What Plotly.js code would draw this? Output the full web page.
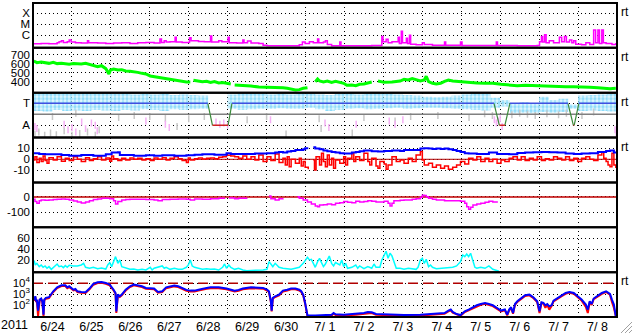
<!DOCTYPE html>
<html><head><meta charset="utf-8">
<script src="https://cdn.plot.ly/plotly-3.0.1.min.js"></script>
<style>html,body{margin:0;padding:0;background:#fff;overflow:hidden}#chart{width:633px;height:334px}</style>
</head><body><div id="chart"></div><script>
// ---- x axis (days since 2011-06-24 00:00) ----
const dayLabels = ['6/24','6/25','6/26','6/27','6/28','6/29','6/30','7/ 1','7/ 2','7/ 3','7/ 4','7/ 5','7/ 6','7/ 7','7/ 8'];
const labelPos = [0.5,1.5,2.5,3.5,4.5,5.5,6.5,7.5,8.5,9.5,10.5,11.5,12.5,13.5,14.5];

// ---- panel 1: X-ray flux (W/m2) ----
const xrayDay = [0,0.21,0.41,0.62,0.67,0.73,0.78,0.88,0.93,0.98,1.09,1.24,1.40,1.43,1.66,1.87,2.07,2.28,2.49,2.69,2.90,3.11,3.26,3.30,3.37,3.42,3.52,3.65,3.68,3.83,4.02,4.06,4.25,4.40,4.56,4.59,4.77,4.85,5.01,5.04,5.23,5.39,5.42,5.51,5.60,5.80,5.91,6.01,6.42,6.84,6.92,6.99,7.10,7.20,7.31,7.34,7.46,7.51,7.56,7.67,7.88,7.91,8.29,8.70,8.96,8.99,9.07,9.12,9.22,9.38,9.41,9.46,9.49,9.59,9.62,9.67,9.70,9.84,10.0,10.05,10.26,10.57,10.60,10.98,11.02,11.40,11.90,11.93,12.44,12.95,13.01,13.06,13.09,13.14,13.18,13.26,13.37,13.52,13.58,13.65,13.70,13.78,13.84,13.89,13.94,14.09,14.20,14.30,14.40,14.45,14.51,14.55,14.61,14.65,14.72,14.87,14.97,15];
const xrayFlux = [1.7e-7,1.8e-7,1.7e-7,2.1e-7,2.6e-7,3.2e-7,2.25e-7,2.6e-7,3.7e-7,2.4e-7,2.1e-7,1.95e-7,3.2e-7,2.1e-7,1.95e-7,1.8e-7,1.95e-7,2.1e-7,1.8e-7,2.1e-7,2.25e-7,1.95e-7,4.6e-7,2.25e-7,3.2e-7,2.4e-7,2.6e-7,6.6e-7,2.4e-7,2.25e-7,6.1e-7,3.2e-7,2.8e-7,2.6e-7,8.7e-7,2.4e-7,3.2e-7,2.6e-7,6.6e-7,2.1e-7,1.95e-7,3.7e-7,2.1e-7,3.0e-7,1.95e-7,1.8e-7,1.25e-7,1.1e-7,1.1e-7,1.35e-7,2.4e-7,1.8e-7,2.6e-7,2.1e-7,4.6e-7,2.1e-7,2.4e-7,3.2e-7,1.45e-7,1.1e-7,2.4e-7,1.1e-7,1.1e-7,1.2e-7,7.6e-7,2.6e-7,4.3e-7,2.1e-7,2.6e-7,6.6e-7,1.8e-7,2.3e-6,2.1e-7,5.4e-7,1.8e-7,1.0e-6,1.55e-7,1.35e-7,2.1e-7,1.45e-7,1.25e-7,2.4e-7,1.25e-7,2.4e-7,1.2e-7,1.2e-7,2.4e-7,1.2e-7,1.1e-7,1.2e-7,2.6e-7,7.6e-7,2.4e-7,1.1e-6,2.1e-7,3.2e-7,2.1e-7,6.6e-7,2.6e-7,7.6e-7,2.4e-7,3.7e-7,2.1e-7,3.2e-7,1.55e-7,1.35e-7,2.1e-7,1.45e-7,3.0e-6,2.1e-7,3.0e-6,1.8e-7,3.0e-6,2.1e-7,1.8e-7,1.45e-7,1.7e-7,1.7e-7];

// ---- panel 2: solar wind speed (km/s) ----
const speedDay = [0.02,0.10,0.21,0.31,0.41,0.52,0.62,0.73,0.83,0.93,1.04,1.14,1.24,1.35,1.45,1.55,1.66,1.76,1.87,1.95,1.99,2.07,2.18,2.28,2.38,2.49,2.59,2.69,2.80,2.90,3.01,3.11,3.21,3.32,3.42,3.52,3.63,3.73,3.83,3.94,4.04,4.08,4.12,4.25,4.35,4.46,4.56,4.66,4.77,4.87,4.97,5.08,5.12,5.18,5.39,5.60,5.80,6.01,6.22,6.42,6.53,6.63,6.74,6.84,6.94,7.05,7.10,7.25,7.31,7.36,7.46,7.56,7.67,7.77,7.88,7.98,8.06,8.19,8.29,8.39,8.50,8.60,8.70,8.75,8.86,9.02,9.22,9.43,9.53,9.64,9.74,9.84,9.95,10.05,10.10,10.16,10.26,10.36,10.47,10.57,10.67,10.78,10.88,10.98,11.19,11.40,11.61,11.81,12.02,12.23,12.44,12.64,12.85,13.06,13.26,13.47,13.68,13.89,14.09,14.30,14.51,14.72,14.82,14.97];
const speedKms = [633,615,622,615,607,619,604,607,600,596,604,600,600,607,596,585,570,581,548,489,533,544,533,537,522,519,515,507,496,489,467,459,452,444,437,430,422,415,407,400,400,null,419,411,404,407,396,404,389,393,385,378,null,367,363,356,344,344,337,337,330,322,311,315,330,337,null,404,433,411,400,411,396,407,393,385,363,367,359,374,378,393,400,null,411,396,400,411,430,422,437,422,411,422,463,404,385,378,385,407,422,411,407,400,393,389,385,385,374,367,359,363,359,356,352,348,348,348,348,341,337,330,326,330];

// ---- panel 3: sector polarity (T=+1, A=-1) and angle scatter ----
const sectorDay = [0,4.49,4.61,5.01,5.11,11.84,11.98,12.12,12.25,13.74,13.88,13.90,14.02,15];
const sectorPol = [1,1,-1,-1,1,1,-1,-1,1,1,-1,-1,1,1];
const cloudDay = [0.125,0.375,0.625,0.875,1.125,1.375,1.625,1.875,2.125,2.375,2.625,2.875,3.125,3.375,3.625,3.875,4.125,4.375,4.625,4.875,5.125,5.375,5.625,5.875,6.125,6.375,6.625,6.875,7.125,7.375,7.625,7.875,8.125,8.375,8.625,8.875,9.125,9.375,9.625,9.875,10.125,10.375,10.625,10.875,11.125,11.375,11.625,11.875,12.125,12.375,12.625,12.875,13.125,13.375,13.625,13.875,14.125,14.375,14.625,14.875];
const cloudLo = [0.3,0.25,0.4,0.3, 0.35,0.3,0.4,0.35, 0.3,0.4,0.35,0.45, 0.4,0.3,0.45,0.4, 0.45,0.5,null,null, 0.5,0.4,0.45,0.5, 0.5,0.55,0.5,0.5, 0.6,0.45,0.3,0.4, 0.5,0.55,0.45,0.5, 0.55,0.6,0.5,0.55, 0.6,0.6,0.55,0.5, 0.45,0.4,0.35,0.6, 0.7,0.1,0.15,0.1, 0.2,0.15,0.2,0.5, 0.3,0.35,0.3,0.25];
const cloudHi = [1.95,1.9,1.95,1.85, 1.9,1.95,1.85,1.9, 1.85,1.9,1.8,1.85, 1.8,1.85,1.75,1.8, 1.75,1.7,null,null, 1.8,1.95,1.9,1.85, 1.8,1.85,1.8,1.9, 1.85,1.8,1.75,1.85, 1.9,1.8,1.85,1.9, 1.85,1.8,1.75,1.7, 1.6,1.55,1.6,1.7, 1.8,1.9,1.85,1.5, 1.3,1.0,1.1,0.95, 1.6,1.3,1.4,0.9, 1.7,1.75,1.8,1.85];
const grayDay = [0.05,0.15,0.3,0.45,0.6,0.8,1.0,1.2,1.4,1.6,1.7,0.5,1.1,2.2,2.6,3.0,3.4,3.7,4.0,4.4,5.5,6.0,6.5,7.35,7.4,8.2,8.5,9.3,9.7,10.4,11.2,11.6,11.8,12.3,12.5,12.7,12.9,13.2,13.5,13.7,14.1,14.4];
const grayVal = [-1.8,-1.6,-1.9,-1.7,-1.85,-1.5,-1.9,-1.75,-1.6,-1.9,-1.4,-0.2,0.1,-0.3,-0.1,-0.2,-0.35,-1.1,-0.4,-0.2,-0.5,-0.2,-1.8,-0.4,-1.3,-1.7,-0.3,-0.6,-0.2,-0.1,-0.3,0.05,-0.1,-0.05,0.1,0.0,-0.1,0.05,-0.05,0.1,-0.1,0.2];
const pinkDay = [0.05,0.1,0.8,0.9,1.0,1.1,1.25,1.35,1.5,1.6,1.65,2.9,3.4,3.5,4.7,4.8,4.9,5.0,6.1,7.5,7.6,8.3,9.15,9.3,9.5,11.85,11.9,11.95,12.05,12.0,14.95,14.98];
const pinkVal = [-1.1,-1.3,-0.9,-1.4,-1.2,-1.6,-0.7,-1.3,-0.8,-1.0,-1.5,-0.6,-0.9,-1.2,-0.7,-0.9,-0.8,-1.0,-0.5,-0.8,-1.2,-0.9,-0.6,-0.9,-0.5,-0.5,-0.8,-0.6,-1.1,-0.4,-1.4,-1.7];

// ---- panel 4: IMF Bt (blue) and Bz (red), nT ----
const btDay = [0,0.16,0.31,0.62,0.73,0.93,1.24,1.55,1.87,2.02,2.18,2.23,2.59,2.90,3.11,3.32,3.63,3.94,4.15,4.35,4.66,4.97,5.08,5.39,5.70,6.01,6.22,6.32,6.42,6.53,6.63,6.74,6.84,6.94,6.99,7.07,7.12,7.20,7.25,7.36,7.46,7.56,7.67,7.77,7.88,7.98,8.19,8.29,8.39,8.50,8.70,8.86,9.02,9.22,9.43,9.53,9.74,9.95,10.05,10.16,10.26,10.36,10.47,10.57,10.67,10.78,10.88,10.98,11.09,11.19,11.40,11.61,11.71,11.81,11.92,12.23,12.44,12.64,12.85,13.06,13.26,13.47,13.68,13.89,14.09,14.30,14.51,14.72,14.82,14.92,15];
const btVal = [5.5,4.8,4.5,4.5,3.9,3.3,3.9,3.3,4.5,6.1,6.4,3.9,3.3,3.6,3.3,3.6,3.3,3.6,4.2,4.5,4.2,5.5,4.8,4.8,5.2,5.5,6.1,6.7,6.1,7.0,7.6,8.5,8.5,9.1,10.0,10.0,null,10.9,9.7,9.1,7.9,7.3,6.7,6.1,5.5,5.2,6.1,6.7,7.3,7.9,7.3,7.0,7.6,7.9,7.6,8.5,8.5,9.7,10.0,9.7,9.4,9.7,9.4,9.7,9.1,8.5,7.6,6.7,5.5,5.2,4.8,4.8,6.1,6.1,4.8,4.5,5.8,6.1,6.4,6.7,6.4,6.1,5.2,4.8,5.2,5.5,6.7,7.6,7.9,6.1,5.5];
const bzDay = [0,0.05,0.10,0.16,0.21,0.26,0.31,0.36,0.41,0.52,0.62,0.73,0.83,0.93,1.04,1.14,1.24,1.35,1.45,1.55,1.66,1.76,1.87,1.97,2.02,2.07,2.18,2.28,2.38,2.49,2.59,2.69,2.80,2.90,3.01,3.11,3.21,3.32,3.42,3.52,3.63,3.73,3.83,3.94,3.99,4.04,4.15,4.25,4.35,4.46,4.56,4.66,4.77,4.87,4.97,5.08,5.18,5.28,5.39,5.49,5.60,5.70,5.80,5.91,6.01,6.11,6.22,6.32,6.42,6.48,6.53,6.58,6.63,6.74,6.84,6.89,6.94,6.99,7.07,7.12,7.20,7.23,7.27,7.36,7.41,7.46,7.51,7.56,7.61,7.67,7.72,7.77,7.88,7.98,8.03,8.08,8.19,8.24,8.29,8.39,8.50,8.60,8.65,8.70,8.81,8.86,8.91,9.02,9.07,9.12,9.22,9.33,9.43,9.53,9.64,9.74,9.84,9.95,10.0,10.05,10.16,10.26,10.36,10.47,10.57,10.67,10.78,10.88,10.98,11.09,11.19,11.30,11.40,11.50,11.61,11.71,11.81,11.92,12.02,12.12,12.23,12.33,12.44,12.54,12.64,12.75,12.85,12.95,13.06,13.16,13.26,13.37,13.47,13.58,13.68,13.78,13.89,13.99,14.09,14.20,14.30,14.40,14.51,14.61,14.66,14.72,14.77,14.82,14.87,14.92,14.97,15];
const bzVal = [-0.6,2.4,-3.0,0.9,-2.1,3.0,-1.2,-3.6,1.5,-0.6,2.4,-1.8,0.9,-1.2,2.4,0,-2.1,1.5,-1.2,0.6,2.4,-0.6,1.2,-1.8,3.0,0.6,-1.2,0.9,-0.6,1.2,0,0.9,-0.6,0.6,-1.2,1.2,0,1.5,-0.6,0.9,2.4,0.6,-1.2,-3.0,1.2,-0.6,0.6,1.2,0.3,0.9,1.2,0.6,1.8,2.4,3.6,3.0,2.4,0.9,3.0,0,2.4,-0.6,3.9,-2.1,2.4,-1.2,4.8,-3.0,0.9,-5.2,2.4,-6.7,0,-3.6,0.9,-6.1,-2.1,-7.3,-9.1,null,-0.6,-9.7,2.4,-5.2,5.5,-2.1,-6.7,3.9,-5.2,0.9,-8.2,-0.6,-3.6,2.4,-5.2,0.9,5.5,-2.1,2.4,-1.2,5.5,-2.1,-5.2,0.9,-6.1,-8.2,-2.1,-4.2,-9.1,-5.2,2.4,-2.1,-0.6,-3.6,0.9,-2.1,3.9,7.0,-0.6,-5.2,-3.6,-7.3,-5.2,-8.2,-6.1,-9.1,-7.3,-5.2,-2.1,-4.2,0.9,-0.6,2.4,-2.1,0.9,-2.1,0,-3.6,-0.6,-2.1,0.9,2.4,-0.6,2.4,-1.2,0.9,-0.6,2.4,-1.2,0.6,-0.6,2.4,0.9,-0.6,2.4,-1.2,0.9,-2.1,0.9,2.4,0,-1.2,3.9,6.1,0.9,-2.1,-5.2,-6.7,5.5,-5.2,-7.3,-7.3];

// ---- panel 5: Dst (nT) ----
const dstDay = [0,0.05,0.10,0.16,0.21,0.31,0.41,0.52,0.62,0.73,0.83,0.93,1.04,1.14,1.24,1.35,1.45,1.55,1.66,1.76,1.87,1.97,2.07,2.12,2.18,2.28,2.38,2.49,2.69,2.90,3.11,3.21,3.32,3.52,3.73,3.94,4.04,4.15,4.35,4.56,4.77,4.92,4.97,5.03,5.18,5.28,5.39,5.49,5.55,6.06,6.11,6.22,6.32,6.42,6.50,6.79,6.84,6.94,7.05,7.15,7.25,7.31,7.36,7.46,7.56,7.67,7.77,7.88,7.98,8.08,8.19,8.29,8.39,8.50,8.60,8.70,8.81,8.91,9.02,9.12,9.17,9.22,9.27,9.43,9.53,9.64,9.74,9.84,9.95,10.0,10.05,10.10,10.16,10.26,10.36,10.57,10.78,10.98,11.09,11.14,11.19,11.24,11.30,11.40,11.50,11.61,11.71,11.81,11.94];
const dstVal = [-15,-30,-41,-24,-20,-22,-20,-17,-15,-13,-15,-20,-26,-33,-39,-33,-24,-17,-13,-9,-9,-11,-24,-46,-30,-20,-17,-15,-15,-17,-20,-24,-17,-15,-13,-15,-20,-13,-15,-11,-9,-7,null,-7,-11,-9,-9,-7,null,7,-11,-20,-11,-9,null,2,-9,-20,-33,-46,-59,-63,-52,-50,-46,-50,-41,-37,-30,-35,-37,-28,-33,-30,-24,-28,-33,-33,-28,-41,-59,-41,-24,-22,-20,-20,-15,-11,-2,11,9,2,-9,-15,-20,-24,-24,-28,-41,-63,-80,-67,-52,-46,-41,-35,-28,-33,-33];

// ---- panel 6: cyan index ----
const cyDay = [0,0.03,0.06,0.10,0.16,0.21,0.26,0.31,0.36,0.41,0.47,0.52,0.57,0.62,0.67,0.73,0.78,0.83,0.88,0.93,1.04,1.14,1.24,1.30,1.35,1.45,1.55,1.66,1.76,1.87,1.92,1.97,2.02,2.07,2.12,2.18,2.23,2.28,2.38,2.49,2.59,2.69,2.80,2.90,3.01,3.06,3.11,3.21,3.32,3.37,3.42,3.52,3.63,3.73,3.83,3.94,3.99,4.04,4.09,4.15,4.25,4.35,4.46,4.56,4.66,4.77,4.87,4.92,4.97,5.03,5.08,5.18,5.28,5.39,5.49,5.60,5.80,5.91,6.01,6.06,6.11,6.16,6.22,6.32,6.42,6.53,6.63,6.74,6.84,6.94,6.99,7.05,7.10,7.15,7.20,7.25,7.31,7.36,7.41,7.46,7.51,7.56,7.61,7.67,7.72,7.77,7.88,7.93,7.98,8.03,8.08,8.19,8.29,8.34,8.39,8.50,8.60,8.70,8.76,8.81,8.91,8.96,9.02,9.07,9.12,9.17,9.22,9.27,9.33,9.43,9.53,9.64,9.74,9.84,9.89,9.95,10.0,10.05,10.10,10.16,10.21,10.26,10.36,10.47,10.57,10.67,10.78,10.88,10.98,11.04,11.09,11.14,11.19,11.24,11.30,11.35,11.40,11.50,11.61,11.71,11.81,11.92,11.97];
const cyVal = [14.5,19.4,11.5,14.5,8.5,11.5,7.3,9.7,5.5,8.5,3.6,7.3,11.5,13.3,8.5,9.7,6.7,10.3,7.3,10.9,9.7,9.7,11.5,14.5,7.3,5.5,7.3,4.8,6.1,4.2,11.5,15.8,8.5,17.6,26.7,14.5,20.6,8.5,5.5,3.6,4.2,2.4,3.6,2.4,7.3,2.4,5.5,7.3,9.7,5.5,7.3,3.6,5.5,3.6,3.6,7.3,11.5,20.6,9.7,7.3,5.5,3.6,4.8,3.6,4.2,2.4,7.3,13.3,5.5,11.5,7.3,3.6,5.5,2.4,1.2,1.2,1.2,2.4,3.6,17.6,13.3,8.5,14.5,7.3,5.5,4.8,3.6,5.5,7.3,14.5,20.6,25.5,20.6,21.8,14.5,7.3,17.6,23.6,15.8,8.5,13.3,20.6,27.9,14.5,9.7,15.8,11.5,20.6,8.5,14.5,5.5,7.3,11.5,5.5,9.7,4.8,8.5,5.5,13.3,7.3,7.3,20.6,29.7,36.4,23.6,32.7,27.9,17.6,5.5,5.5,3.6,5.5,4.8,3.6,7.3,20.6,23.6,14.5,21.8,8.5,11.5,7.3,4.8,5.5,6.1,6.7,7.3,9.7,17.6,29.7,26.7,31.5,26.7,32.7,20.6,7.3,5.5,7.3,5.5,9.7,3.6,1.2,0];

// ---- panel 7: electron flux (blue, red) ----
const efDay = [0,0.03,0.06,0.08,0.10,0.13,0.17,0.21,0.24,0.27,0.29,0.33,0.41,0.52,0.62,0.73,0.83,0.88,0.93,0.98,1.04,1.09,1.14,1.24,1.35,1.45,1.55,1.66,1.76,1.87,1.97,2.07,2.12,2.14,2.18,2.23,2.28,2.38,2.49,2.59,2.69,2.80,2.90,3.11,3.21,3.32,3.42,3.52,3.63,3.73,3.83,3.94,4.04,4.15,4.25,4.35,4.46,4.56,4.77,4.97,5.18,5.28,5.39,5.60,5.80,5.91,6.01,6.06,6.11,6.13,6.16,6.22,6.32,6.42,6.53,6.63,6.74,6.84,6.89,6.94,6.99,7.02,7.05,7.25,7.46,7.67,7.72,7.77,7.98,8.29,8.50,8.60,8.70,8.81,9.12,9.53,9.95,10.36,10.57,10.67,10.73,10.78,10.88,10.98,11.09,11.19,11.30,11.40,11.50,11.61,11.71,11.81,11.92,12.02,12.12,12.18,12.23,12.28,12.33,12.38,12.44,12.54,12.64,12.75,12.85,12.95,13.01,13.06,13.11,13.16,13.21,13.26,13.32,13.37,13.47,13.58,13.68,13.78,13.89,13.99,14.09,14.20,14.25,14.30,14.35,14.40,14.51,14.61,14.72,14.82,14.87,14.92,14.97];
const efBlue = [470,330,660,230,330,33,330,410,230,14,330,470,540,1870,4300,6600,6600,4300,5300,3800,2600,3000,1870,1630,1510,3300,8700,12300,13200,10700,7600,2600,1320,28,940,660,940,2600,5300,7600,6600,5300,3800,3300,1630,1870,4300,5300,6100,5300,3800,2500,2150,2150,2600,3300,3800,4300,4300,3300,2150,2500,3300,4300,4300,3800,2600,1870,230,33,470,660,940,2150,2600,3300,3300,2600,1870,940,162,28,12,11.5,12,14,20,15,14,16,20,25,23,16,14,13,14,16,20,33,41,25,16,13,28,41,66,100,131,162,131,100,57,33,41,14,41,66,20,131,230,470,810,940,540,230,28,186,162,100,131,81,100,265,470,810,1320,1630,1320,660,330,115,41,230,131,410,810,1320,1870,1070,330,115,10];
const efRed = [400,280,560,200,280,10,280,350,200,10,280,400,460,1600,3600,5600,5600,3600,4500,3200,2200,2500,1600,1400,1300,2800,7400,10500,11200,9100,6500,2200,1100,20,800,560,800,2200,4500,6500,5600,4500,3200,2800,1400,1600,3600,4500,5200,4500,3200,2100,1800,1800,2200,2800,3200,3600,3600,2800,1800,2100,2800,3600,3600,3200,2200,1600,200,28,400,560,800,1800,2200,2800,2800,2200,1600,800,140,20,10,10,10,12,17,13,12,14,17,21,20,14,12,11,12,14,17,28,35,21,14,11,24,35,56,85,110,140,110,85,48,28,35,12,35,56,17,110,200,400,690,800,460,200,20,160,140,60,110,40,85,225,400,690,1100,1400,1100,560,280,70,20,200,110,350,690,1100,1600,900,200,60,10];

// ---- build ----
const FONT = 'Liberation Sans, Arial, sans-serif';
const N = 7;
function dom(i){ return [1 - i/N, 1 - (i-1)/N]; }

const secBlue = {x:[],y:[]}, secRed = {x:[],y:[]}, secGreen = {x:[],y:[]};
for (let i=0;i<sectorDay.length-1;i++){
  const a=sectorPol[i], b=sectorPol[i+1];
  const t = (a===1&&b===1)?secBlue:(a===-1&&b===-1)?secRed:secGreen;
  t.x.push(sectorDay[i],sectorDay[i+1],null); t.y.push(a,b,null);
}
const cloudX=[], cloudBase=[], cloudLen=[];
cloudDay.forEach((d,i)=>{ if(cloudLo[i]!==null){cloudX.push(d);cloudBase.push(cloudLo[i]);cloudLen.push(cloudHi[i]-cloudLo[i]);} });

const span = [0,15];
const traces = [
  {x:xrayDay,y:xrayFlux,yaxis:'y',line:{color:'#ff00ff',width:1.5,shape:'hv'}},
  {x:speedDay,y:speedKms,yaxis:'y2',line:{color:'#00ff00',width:3}},
  {type:'bar',x:cloudX,y:cloudLen,base:cloudBase,width:0.25,yaxis:'y3',
    marker:{color:'rgba(0,0,0,0)',line:{width:0},pattern:{shape:'.',fgcolor:'#8fdcfa',bgcolor:'rgba(175,230,252,0.35)',size:4,solidity:0.55}}},
  {x:grayDay,y:grayVal,yaxis:'y3',mode:'markers',marker:{symbol:'line-ns',size:5,line:{width:1.5,color:'#c8c8c8'}}},
  {x:pinkDay,y:pinkVal,yaxis:'y3',mode:'markers',marker:{symbol:'line-ns',size:5,line:{width:1.5,color:'#f5b0f5'}}},
  {x:span,y:[0,0],yaxis:'y3',line:{color:'#808080',width:1.5}},
  {x:secGreen.x,y:secGreen.y,yaxis:'y3',line:{color:'#3a8a3a',width:1.2}},
  {x:secRed.x,y:secRed.y,yaxis:'y3',line:{color:'#d02020',width:1.5}},
  {x:secBlue.x,y:secBlue.y,yaxis:'y3',line:{color:'#4050e0',width:1.5}},
  {x:span,y:[0,0],yaxis:'y4',line:{color:'#b00000',width:1}},
  {x:bzDay,y:bzVal,yaxis:'y4',line:{color:'#ff0000',width:1.5,shape:'hv'}},
  {x:btDay,y:btVal,yaxis:'y4',line:{color:'#0000ff',width:2,shape:'hv'}},
  {x:span,y:[0,0],yaxis:'y5',line:{color:'#c00000',width:1.5}},
  {x:dstDay,y:dstVal,yaxis:'y5',line:{color:'#ff00ff',width:1.5,shape:'hv'}},
  {x:cyDay,y:cyVal,yaxis:'y6',line:{color:'#00ffff',width:1.5}},
  {x:span,y:[1e4,1e4],yaxis:'y7',line:{color:'#b00000',width:1.5,dash:'10px,5px'}},
  {x:efDay,y:efRed,yaxis:'y7',line:{color:'#ff0000',width:2}},
  {x:efDay,y:efBlue,yaxis:'y7',line:{color:'#0000ff',width:2}}
].map(t=>Object.assign({type:'scatter',mode:'lines',xaxis:'x',hoverinfo:'skip',connectgaps:false},t));

const gridStyle = {showgrid:true,gridcolor:'#000',gridwidth:1,griddash:'1px,3px',zeroline:false,showline:false,ticks:'',
  ticklabelstandoff:2,tickfont:{family:FONT,size:11.5,color:'#000'},fixedrange:true,anchor:'x'};
function yax(i,extra){ return Object.assign({},gridStyle,{domain:dom(i),tickmode:'array'},extra); }

const layout = {
  width:633,height:334,margin:{l:33,r:16,t:3,b:17},
  paper_bgcolor:'#fff',plot_bgcolor:'#fff',showlegend:false,hovermode:false,barmode:'overlay',
  font:{family:FONT,size:12,color:'#000'},
  xaxis:{range:span,anchor:'y7',tickmode:'array',tickvals:labelPos,ticktext:dayLabels,showgrid:false,zeroline:false,showline:false,ticks:'',
    tickfont:{family:FONT,size:12.5,color:'#000'},fixedrange:true,ticklabelstandoff:0,
    minor:{tickmode:'linear',tick0:0,dtick:1,showgrid:true,gridcolor:'#000',gridwidth:1,griddash:'1px,3px',ticks:''}},
  yaxis: yax(1,{type:'log',range:[-7.142,-3.064],tickvals:[1e-6,1e-5,1e-4],ticktext:['C','M','X']}),
  yaxis2:yax(2,{range:[281,779],tickvals:[400,500,600,700],ticktext:['400','500','600','700']}),
  yaxis3:yax(3,{range:[-2.115,1.96],tickvals:[-1,1],ticktext:['A','T']}),
  yaxis4:yax(4,{range:[-21.03,19.75],tickvals:[-10,0,10],ticktext:['-10','0','10']}),
  yaxis5:yax(5,{range:[-197.6,95],tickvals:[-100,0],ticktext:['-100','0']}),
  yaxis6:yax(6,{range:[-1.5,80],tickvals:[20,40,60],ticktext:['20','40','60']}),
  yaxis7:yax(7,{type:'log',range:[0.936,5.01],tickvals:[100,1000,10000],ticktext:['10<sup>2</sup>','10<sup>3</sup>','10<sup>4</sup>']}),
  shapes:[],annotations:[]
};
['y','y2','y3','y4','y5','y6','y7'].forEach(a=>{
  layout.shapes.push({type:'rect',xref:'paper',yref:a+' domain',x0:0,x1:1,y0:0,y1:1,line:{color:'#000',width:2},layer:'above'});
});
['y','y2','y3','y4','y7'].forEach(a=>{
  layout.annotations.push({text:'rt',xref:'paper',yref:a+' domain',x:1,y:0.8,xanchor:'left',yanchor:'middle',xshift:2,showarrow:false,font:{family:FONT,size:12,color:'#000'}});
});
layout.annotations.push({text:'2011',xref:'paper',yref:'paper',x:-0.031,y:-0.026,xanchor:'center',yanchor:'middle',showarrow:false,font:{family:FONT,size:12.5,color:'#000'}});
[[621,333,632,322],[625,333,632,326],[629,333,632,330]].forEach(p=>{
  layout.shapes.push({type:'line',xref:'paper',yref:'paper',x0:(p[0]-33)/584,y0:(317-p[1])/314,x1:(p[2]-33)/584,y1:(317-p[3])/314,line:{color:'#a0a0a0',width:1}});
});

Plotly.newPlot('chart',traces,layout,{staticPlot:true,displayModeBar:false});
</script></body></html>
